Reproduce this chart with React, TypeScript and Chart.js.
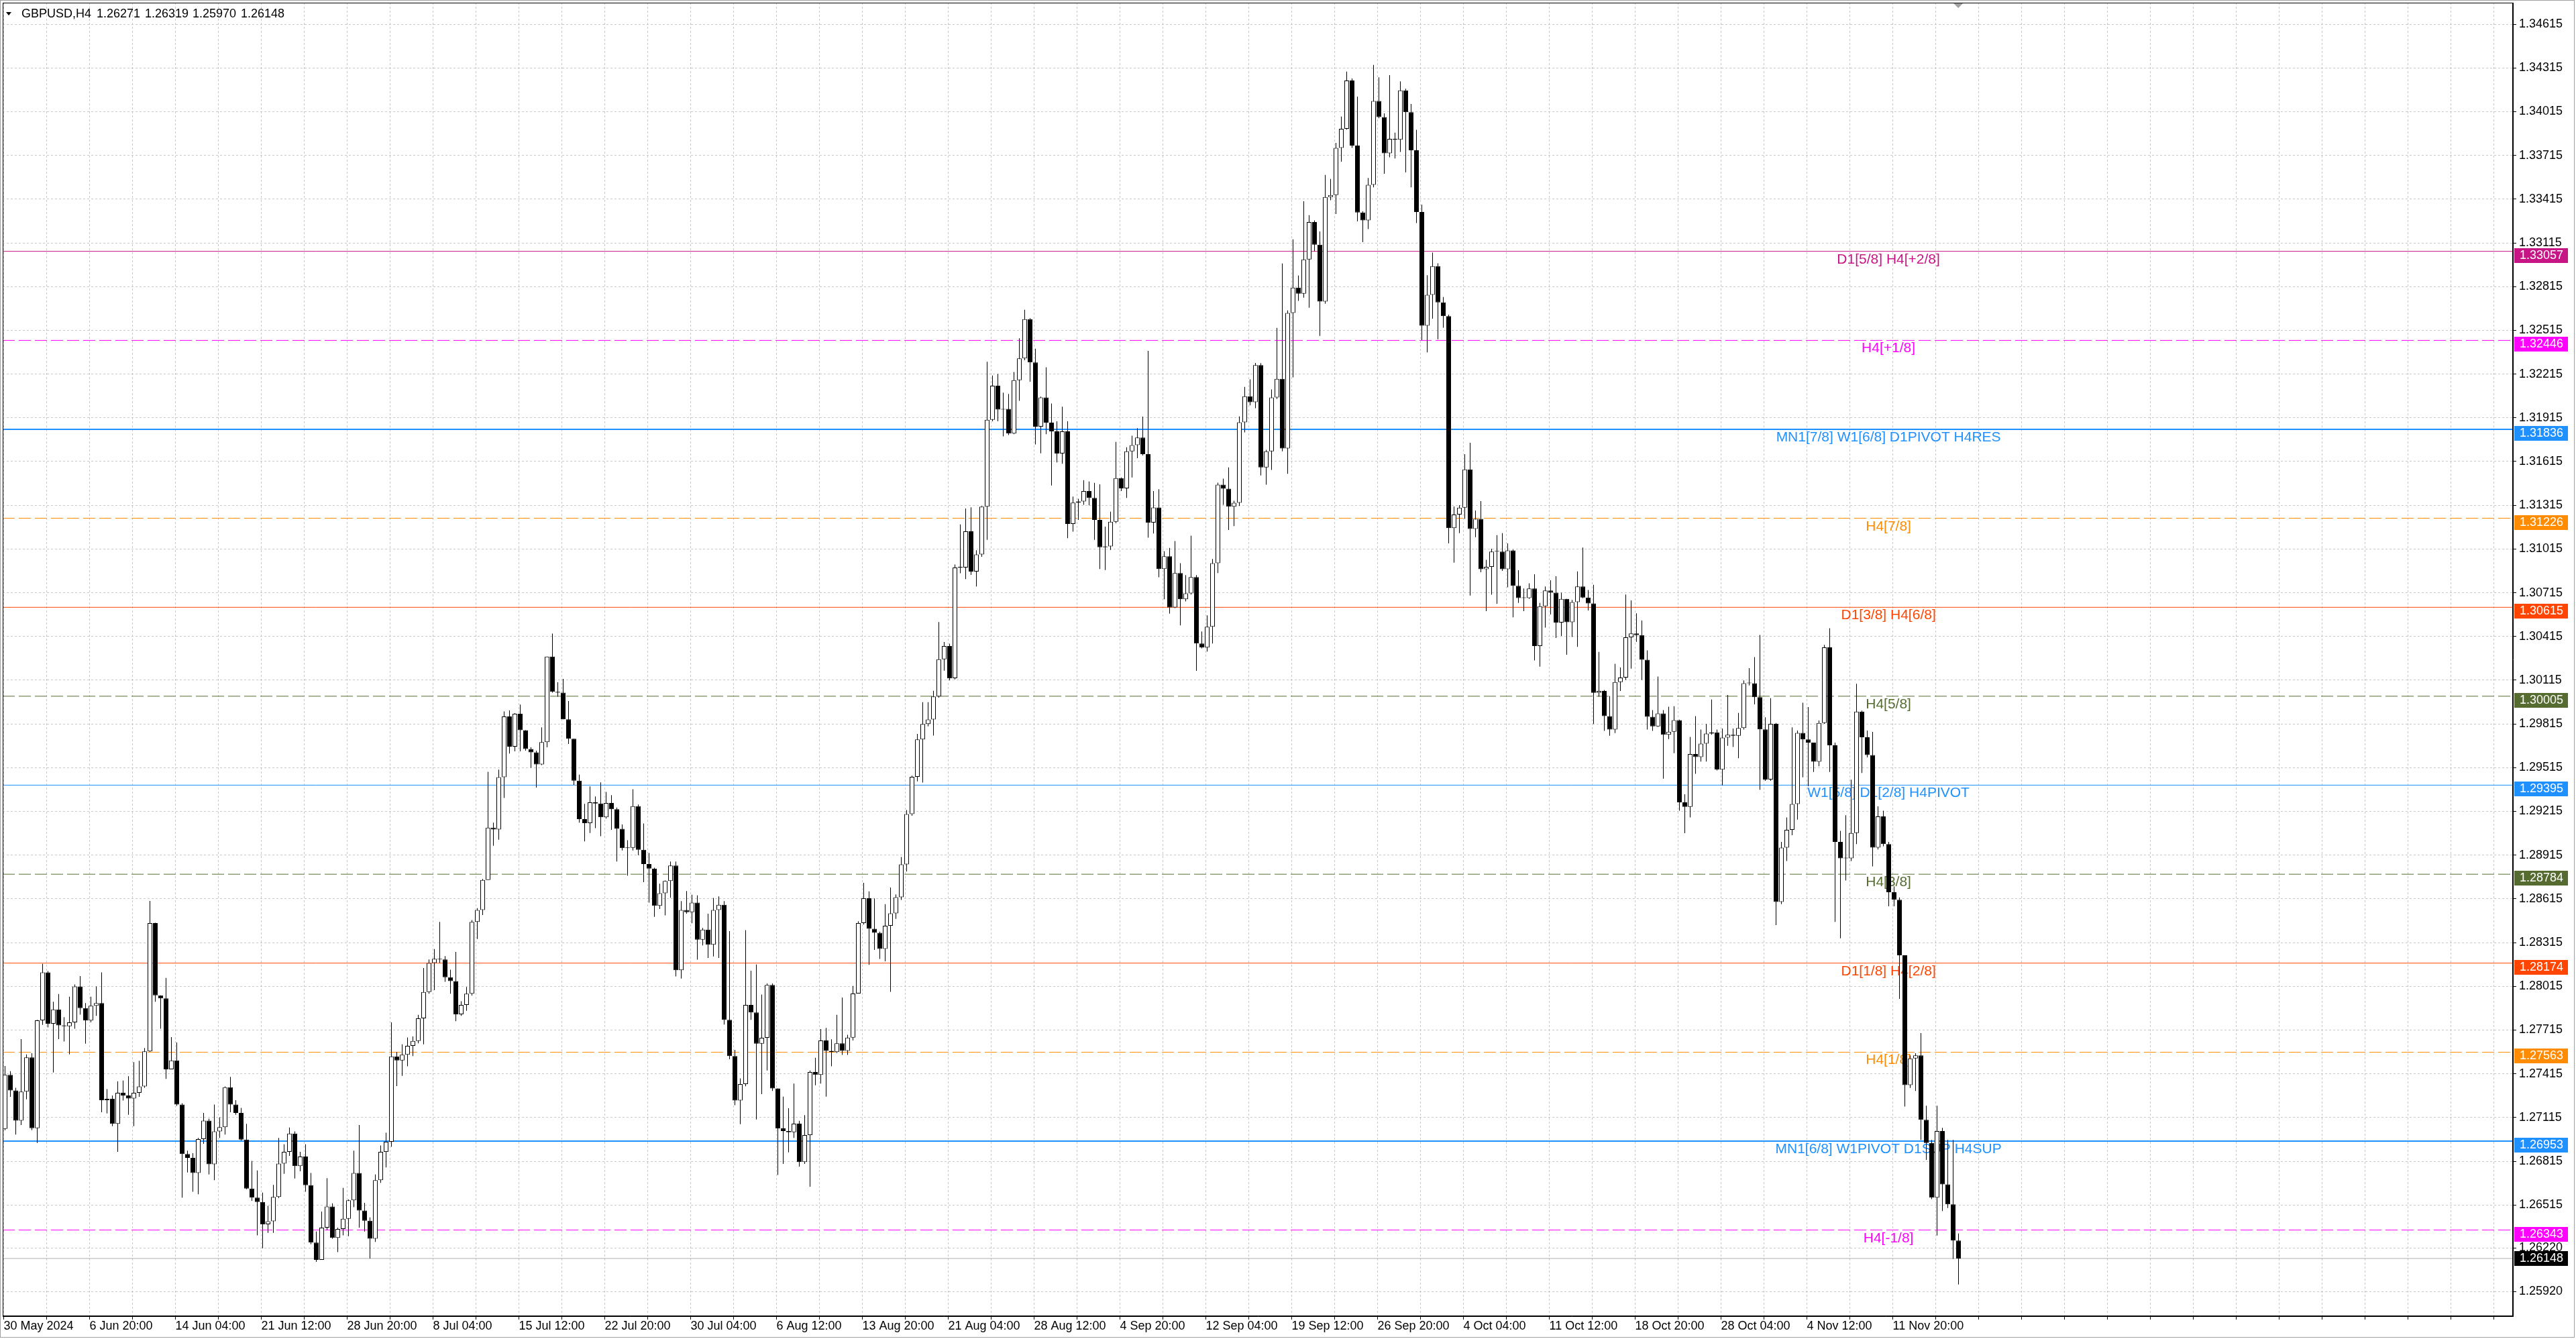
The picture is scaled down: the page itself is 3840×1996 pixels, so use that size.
import React, { useEffect, useRef } from 'react';
import { Chart, registerables } from 'chart.js';

Chart.register(...registerables);

// ---------------- data ----------------
const symbolTitle = 'GBPUSD,H4';
const headerValues = ['1.26271', '1.26319', '1.25970', '1.26148'];

// one candle = two H4 bars
const firstOpen = 1.27037;
const closes = [
  1.27407, 1.27301, 1.27093, 1.27292, 1.27527, 1.27042, 1.27782, 1.28111, 1.27759, 1.27856,
  1.27747, 1.27741, 1.27768, 1.28014, 1.27865, 1.27780, 1.27882, 1.27900, 1.27234, 1.27243,
  1.27072, 1.27284, 1.27266, 1.27245, 1.27284, 1.27328, 1.27569, 1.28449, 1.27953, 1.27932,
  1.27446, 1.27507, 1.27204, 1.26864, 1.26838, 1.26734, 1.26967, 1.27093, 1.26794, 1.27020,
  1.27049, 1.27322, 1.27204, 1.27146, 1.26963, 1.26628, 1.26565, 1.26535, 1.26382, 1.26403,
  1.26570, 1.26799, 1.26879, 1.27005, 1.26782, 1.26847, 1.26650, 1.26257, 1.26139, 1.26359,
  1.26505, 1.26289, 1.26350, 1.26421, 1.26547, 1.26734, 1.26477, 1.26407, 1.26283, 1.26685,
  1.26879, 1.26949, 1.27534, 1.27506, 1.27546, 1.27607, 1.27640, 1.27795, 1.27976, 1.28175,
  1.28204, 1.28199, 1.28077, 1.28051, 1.27823, 1.27887, 1.27964, 1.28457, 1.28539, 1.28744,
  1.29103, 1.29091, 1.29450, 1.29866, 1.29659, 1.29885, 1.29772, 1.29643, 1.29620, 1.29537,
  1.29690, 1.30277, 1.30035, 1.30030, 1.29847, 1.29713, 1.29425, 1.29162, 1.29134, 1.29277,
  1.29269, 1.29175, 1.29273, 1.29230, 1.29095, 1.28963, 1.28965, 1.29251, 1.28952, 1.28854,
  1.28823, 1.28567, 1.28654, 1.28737, 1.28843, 1.28126, 1.28539, 1.28524, 1.28589, 1.28335,
  1.28404, 1.28300, 1.28539, 1.28574, 1.27785, 1.27536, 1.27232, 1.27344, 1.27887, 1.27835,
  1.27622, 1.27662, 1.28024, 1.27314, 1.27040, 1.27022, 1.27014, 1.27073, 1.26809, 1.26994,
  1.27427, 1.27407, 1.27643, 1.27572, 1.27564, 1.27624, 1.27572, 1.27663, 1.27966, 1.28449,
  1.28619, 1.28410, 1.28382, 1.28272, 1.28430, 1.28516, 1.28626, 1.28851, 1.29197, 1.29452,
  1.29708, 1.29814, 1.29846, 1.30003, 1.30259, 1.30349, 1.30129, 1.30888, 1.30888, 1.31136,
  1.30860, 1.30978, 1.31305, 1.31901, 1.32135, 1.31972, 1.31976, 1.31807, 1.32173, 1.32323,
  1.32592, 1.32295, 1.31854, 1.32055, 1.31882, 1.31822, 1.31670, 1.31822, 1.31187, 1.31333,
  1.31341, 1.31412, 1.31365, 1.31215, 1.31027, 1.31033, 1.31202, 1.31501, 1.31431, 1.31685,
  1.31728, 1.31779, 1.31666, 1.31196, 1.31300, 1.30877, 1.30965, 1.30614, 1.30850, 1.30670,
  1.30711, 1.30822, 1.30367, 1.30339, 1.30482, 1.30918, 1.31456, 1.31429, 1.31305, 1.31332,
  1.31884, 1.32063, 1.32022, 1.32276, 1.31575, 1.31685, 1.32055, 1.32182, 1.31705, 1.32634,
  1.32808, 1.32767, 1.33001, 1.33258, 1.33103, 1.32712, 1.33429, 1.33443, 1.33766, 1.33898,
  1.34229, 1.33782, 1.33324, 1.33269, 1.33513, 1.34088, 1.33978, 1.33730, 1.33829, 1.33823,
  1.34161, 1.34012, 1.33750, 1.33327, 1.32547, 1.32758, 1.32955, 1.32707, 1.32612, 1.31158,
  1.31251, 1.31299, 1.31561, 1.31152, 1.31222, 1.30876, 1.30893, 1.30997, 1.30997, 1.30876,
  1.31005, 1.30763, 1.30679, 1.30679, 1.30744, 1.30349, 1.30622, 1.30730, 1.30715, 1.30510,
  1.30673, 1.30513, 1.30651, 1.30758, 1.30682, 1.30642, 1.30028, 1.30041, 1.29869, 1.29777,
  1.30102, 1.30133, 1.30409, 1.30436, 1.30424, 1.30255, 1.29864, 1.29798, 1.29887, 1.29741,
  1.29761, 1.29841, 1.29277, 1.29246, 1.29608, 1.29588, 1.29680, 1.29749, 1.29757, 1.29501,
  1.29721, 1.29741, 1.29734, 1.29787, 1.30094, 1.30094, 1.29998, 1.29778, 1.29434, 1.29815,
  1.28594, 1.28967, 1.29089, 1.29266, 1.29754, 1.29708, 1.29687, 1.29556, 1.29821, 1.30340,
  1.29668, 1.29006, 1.28893, 1.28893, 1.29067, 1.29900, 1.29723, 1.29601, 1.28967, 1.29180,
  1.28991, 1.28661, 1.28609, 1.28228, 1.27337, 1.27520, 1.27541, 1.27099, 1.26940, 1.26565,
  1.27022, 1.26656, 1.26519, 1.26271, 1.26148,
];
const highs = [
  1.27468, 1.27433, 1.27319, 1.27653, 1.27548, 1.27556, 1.27785, 1.28169, 1.28120, 1.27909,
  1.27962, 1.27803, 1.27944, 1.28028, 1.28085, 1.27900, 1.27944, 1.28014, 1.28111, 1.27310,
  1.27266, 1.27363, 1.27368, 1.27398, 1.27495, 1.27504, 1.27592, 1.28601, 1.28451, 1.27953,
  1.28072, 1.27666, 1.27630, 1.27213, 1.26887, 1.26870, 1.26975, 1.27146, 1.27107, 1.27204,
  1.27116, 1.27328, 1.27394, 1.27234, 1.27181, 1.27072, 1.26817, 1.26752, 1.26600, 1.26509,
  1.26653, 1.26975, 1.26931, 1.27046, 1.27020, 1.26879, 1.26931, 1.26734, 1.26333, 1.26470,
  1.26699, 1.26526, 1.26359, 1.26632, 1.26553, 1.26887, 1.27063, 1.26530, 1.26430, 1.26724,
  1.26923, 1.27011, 1.27768, 1.27565, 1.27617, 1.27664, 1.27671, 1.27819, 1.28140, 1.28199,
  1.28270, 1.28457, 1.28222, 1.28129, 1.28251, 1.27913, 1.28011, 1.28469, 1.28551, 1.28751,
  1.29486, 1.29138, 1.29502, 1.29901, 1.29908, 1.29889, 1.29948, 1.29772, 1.29655, 1.29631,
  1.29791, 1.30277, 1.30434, 1.30101, 1.30124, 1.29972, 1.29713, 1.29467, 1.29267, 1.29386,
  1.29317, 1.29414, 1.29349, 1.29327, 1.29241, 1.29125, 1.29017, 1.29367, 1.29262, 1.29132,
  1.28930, 1.28828, 1.28719, 1.28741, 1.28871, 1.28871, 1.28600, 1.28669, 1.28643, 1.28639,
  1.28415, 1.28513, 1.28621, 1.28632, 1.28600, 1.28394, 1.27579, 1.27383, 1.28400, 1.28122,
  1.28165, 1.27959, 1.28035, 1.28035, 1.27308, 1.27258, 1.27179, 1.27348, 1.27092, 1.27132,
  1.27438, 1.27525, 1.27722, 1.27730, 1.27651, 1.27820, 1.27938, 1.27682, 1.28017, 1.28461,
  1.28725, 1.28666, 1.28618, 1.28390, 1.28579, 1.28693, 1.28646, 1.28902, 1.29224, 1.29460,
  1.29747, 1.29964, 1.29964, 1.30042, 1.30514, 1.30377, 1.30365, 1.30908, 1.31183, 1.31293,
  1.31301, 1.31006, 1.31309, 1.32299, 1.32205, 1.32216, 1.32088, 1.32079, 1.32229, 1.32460,
  1.32656, 1.32599, 1.32389, 1.32060, 1.32261, 1.32013, 1.31891, 1.31991, 1.31891, 1.31375,
  1.31360, 1.31487, 1.31478, 1.31469, 1.31459, 1.31168, 1.31271, 1.31750, 1.31506, 1.31713,
  1.31792, 1.31844, 1.31923, 1.32374, 1.31412, 1.31425, 1.30999, 1.31022, 1.31070, 1.30918,
  1.30836, 1.31106, 1.30836, 1.30449, 1.30560, 1.30946, 1.31470, 1.31498, 1.31575, 1.31346,
  1.31925, 1.32127, 1.32179, 1.32292, 1.32290, 1.31696, 1.32110, 1.32532, 1.32974, 1.32651,
  1.33139, 1.32891, 1.33401, 1.33305, 1.33269, 1.33194, 1.33581, 1.33553, 1.33801, 1.33981,
  1.34290, 1.34243, 1.34119, 1.33332, 1.33561, 1.34336, 1.34251, 1.34003, 1.34266, 1.33871,
  1.34223, 1.34173, 1.34068, 1.33891, 1.33378, 1.32893, 1.33048, 1.32975, 1.32744, 1.32623,
  1.31307, 1.31316, 1.31665, 1.31744, 1.31279, 1.31344, 1.30941, 1.31017, 1.31110, 1.31124,
  1.31053, 1.31011, 1.30870, 1.30744, 1.30780, 1.30842, 1.30645, 1.30758, 1.30800, 1.30828,
  1.30715, 1.30669, 1.30666, 1.30861, 1.31025, 1.30734, 1.30769, 1.30309, 1.30048, 1.30007,
  1.30228, 1.30202, 1.30703, 1.30662, 1.30574, 1.30524, 1.30320, 1.29910, 1.30140, 1.29910,
  1.29933, 1.29936, 1.29844, 1.29332, 1.29726, 1.29869, 1.29777, 1.29814, 1.29982, 1.29777,
  1.29783, 1.30013, 1.29783, 1.29890, 1.30114, 1.30197, 1.30273, 1.30425, 1.29861, 1.29992,
  1.29821, 1.29006, 1.29174, 1.29791, 1.29769, 1.29961, 1.29931, 1.29607, 1.29839, 1.30358,
  1.30471, 1.29687, 1.29082, 1.29189, 1.29433, 1.30090, 1.29906, 1.29769, 1.29760, 1.29250,
  1.29220, 1.29006, 1.28701, 1.28625, 1.28228, 1.27541, 1.27556, 1.27694, 1.27196, 1.26961,
  1.27196, 1.27044, 1.26961, 1.26961, 1.26319,
];
const lows = [
  1.27028, 1.27257, 1.26998, 1.27063, 1.27240, 1.27028, 1.26940, 1.27750, 1.27733, 1.27424,
  1.27653, 1.27636, 1.27548, 1.27724, 1.27821, 1.27622, 1.27768, 1.27812, 1.27151, 1.27143,
  1.27055, 1.26879, 1.27231, 1.27134, 1.27055, 1.27257, 1.27319, 1.27565, 1.27909, 1.27724,
  1.27380, 1.27446, 1.27195, 1.26565, 1.26738, 1.26606, 1.26588, 1.26935, 1.26724, 1.26685,
  1.26975, 1.26998, 1.27151, 1.27134, 1.26958, 1.26623, 1.26544, 1.26306, 1.26218, 1.26324,
  1.26324, 1.26562, 1.26729, 1.26852, 1.26697, 1.26746, 1.26606, 1.26245, 1.26125, 1.26139,
  1.26341, 1.26283, 1.26192, 1.26306, 1.26301, 1.26500, 1.26359, 1.26333, 1.26148, 1.26262,
  1.26667, 1.26773, 1.26914, 1.27330, 1.27401, 1.27466, 1.27537, 1.27624, 1.27617, 1.27964,
  1.27988, 1.28175, 1.28046, 1.27964, 1.27776, 1.27812, 1.27847, 1.27952, 1.28340, 1.28504,
  1.28744, 1.28979, 1.29021, 1.29307, 1.29612, 1.29627, 1.29627, 1.29631, 1.29514, 1.29378,
  1.29533, 1.29655, 1.30030, 1.30002, 1.29847, 1.29678, 1.29397, 1.29138, 1.29009, 1.29067,
  1.29100, 1.29045, 1.29165, 1.29089, 1.28871, 1.28947, 1.28774, 1.28947, 1.28915, 1.28730,
  1.28589, 1.28491, 1.28545, 1.28502, 1.28622, 1.28083, 1.28068, 1.28513, 1.28448, 1.28198,
  1.28296, 1.28209, 1.28220, 1.28209, 1.27753, 1.27514, 1.27199, 1.27069, 1.27329, 1.27785,
  1.27101, 1.27275, 1.27438, 1.27297, 1.26721, 1.26797, 1.26876, 1.26975, 1.26778, 1.26797,
  1.26640, 1.27336, 1.27348, 1.27258, 1.27466, 1.27557, 1.27545, 1.27545, 1.27643, 1.27977,
  1.28438, 1.28162, 1.28265, 1.28202, 1.28186, 1.27977, 1.28477, 1.28607, 1.28803, 1.29185,
  1.29421, 1.29413, 1.29798, 1.29735, 1.29995, 1.30180, 1.30113, 1.30121, 1.30849, 1.30809,
  1.30837, 1.30758, 1.30962, 1.31078, 1.31891, 1.31891, 1.31788, 1.31797, 1.31803, 1.32032,
  1.32310, 1.32163, 1.31732, 1.31671, 1.31803, 1.31450, 1.31609, 1.31600, 1.31089, 1.31134,
  1.31215, 1.31318, 1.31315, 1.31078, 1.30877, 1.30871, 1.31009, 1.31191, 1.31412, 1.31365,
  1.31506, 1.31638, 1.31656, 1.31093, 1.31121, 1.30821, 1.30670, 1.30571, 1.30609, 1.30491,
  1.30656, 1.30703, 1.30179, 1.30333, 1.30311, 1.30367, 1.30850, 1.31318, 1.31145, 1.31172,
  1.31310, 1.31815, 1.32000, 1.31981, 1.31520, 1.31456, 1.31558, 1.32044, 1.31685, 1.31531,
  1.32193, 1.32717, 1.32739, 1.32670, 1.33057, 1.32477, 1.32698, 1.33407, 1.33313, 1.33672,
  1.33892, 1.33766, 1.33263, 1.33120, 1.33209, 1.33496, 1.33970, 1.33589, 1.33702, 1.33694,
  1.33739, 1.33598, 1.33496, 1.33251, 1.32448, 1.32364, 1.32595, 1.32454, 1.32533, 1.31053,
  1.30921, 1.31124, 1.31222, 1.30696, 1.31096, 1.30856, 1.30589, 1.30701, 1.30639, 1.30865,
  1.30752, 1.30546, 1.30645, 1.30589, 1.30673, 1.30250, 1.30208, 1.30476, 1.30566, 1.30405,
  1.30419, 1.30289, 1.30412, 1.30344, 1.30677, 1.30593, 1.29814, 1.30002, 1.29767, 1.29734,
  1.29752, 1.30041, 1.30117, 1.30194, 1.30378, 1.30117, 1.29777, 1.29767, 1.29795, 1.29439,
  1.29711, 1.29614, 1.29220, 1.29066, 1.29174, 1.29473, 1.29557, 1.29557, 1.29741, 1.29496,
  1.29393, 1.29665, 1.29657, 1.29580, 1.29777, 1.30079, 1.29949, 1.29363, 1.29424, 1.29424,
  1.28435, 1.28579, 1.28875, 1.29052, 1.29159, 1.29449, 1.29388, 1.29485, 1.29525, 1.29815,
  1.29485, 1.28457, 1.28344, 1.28741, 1.28875, 1.28991, 1.29479, 1.29586, 1.28838, 1.28954,
  1.28976, 1.28564, 1.28564, 1.27929, 1.27190, 1.27318, 1.27297, 1.26961, 1.26824, 1.26555,
  1.26305, 1.26473, 1.26494, 1.26146, 1.25970,
];

const timeLabels = [
  '30 May 2024', '6 Jun 20:00', '14 Jun 04:00', '21 Jun 12:00', '28 Jun 20:00', '8 Jul 04:00',
  '15 Jul 12:00', '22 Jul 20:00', '30 Jul 04:00', '6 Aug 12:00', '13 Aug 20:00', '21 Aug 04:00',
  '28 Aug 12:00', '4 Sep 20:00', '12 Sep 04:00', '19 Sep 12:00', '26 Sep 20:00', '4 Oct 04:00',
  '11 Oct 12:00', '18 Oct 20:00', '28 Oct 04:00', '4 Nov 12:00', '11 Nov 20:00',
];

const yTickLabels = [
  '1.34615', '1.34315', '1.34015', '1.33715', '1.33415', '1.33115', '1.32815', '1.32515',
  '1.32215', '1.31915', '1.31615', '1.31315', '1.31015', '1.30715', '1.30415', '1.30115',
  '1.29815', '1.29515', '1.29215', '1.28915', '1.28615', '1.28315', '1.28015', '1.27715',
  '1.27415', '1.27115', '1.26815', '1.26515', '1.26220', '1.25920',
];

const levelPrices = [1.33057, 1.32446, 1.31836, 1.31226, 1.30615, 1.30005, 1.29395, 1.28784, 1.28174, 1.27563, 1.26953, 1.26343];
const levelNames = [
  'D1[5/8] H4[+2/8]', 'H4[+1/8]', 'MN1[7/8] W1[6/8] D1PIVOT H4RES', 'H4[7/8]', 'D1[3/8] H4[6/8]', 'H4[5/8]',
  'W1[5/8] D1[2/8] H4PIVOT', 'H4[3/8]', 'D1[1/8] H4[2/8]', 'H4[1/8]', 'MN1[6/8] W1PIVOT D1SUP H4SUP', 'H4[-1/8]',
];
const levelColors = ['#C71585', '#FF00FF', '#1E90FF', '#FF8C00', '#FF4500', '#556B2F', '#1E90FF', '#556B2F', '#FF4500', '#FF8C00', '#1E90FF', '#FF00FF'];
const levelDashed = [false, true, false, true, false, true, false, true, false, true, false, true];
const levelWidths = [1, 1, 2, 1, 1, 1, 1, 1, 1, 1, 2, 1];
const bidPrice = 1.26148;

// ---------------- layout ----------------
const W = 3840;
const H = 1996;
const AREA = { left: 4, top: 4, right: 3746, bottom: 1962 };
const PX_PER_BAR = 4;
const BARS_PER_CANDLE = 2;
const X_MIN = -0.375;
const X_MAX = X_MIN + (AREA.right - AREA.left) / PX_PER_BAR;
const Y_MIN = 1.25752;
const Y_MAX = 1.3476272;
const GRID_EVERY = 16;
const LABEL_EVERY = 32;
const LEVEL_TEXT_BAR = 702.4;
const SHIFT_BAR = 728.4;
const FONT = '"Liberation Sans", Arial, sans-serif';
const AXIS_FONT_SIZE = 18;

export default function App() {
  const ref = useRef<HTMLCanvasElement | null>(null);

  useEffect(() => {
    const canvas = ref.current;
    if (!canvas) return;

    const candles = closes.map((c, k) => {
      const o = k === 0 ? firstOpen : closes[k - 1];
      return {
        x: k * BARS_PER_CANDLE + 0.5,
        o,
        c,
        h: Math.max(highs[k], o, c),
        l: Math.min(lows[k], o, c),
      };
    });

    const xTicks: number[] = [];
    for (let v = 0; v <= X_MAX; v += GRID_EVERY) xTicks.push(v);
    const yTicks = yTickLabels.map((s) => parseFloat(s)).sort((a, b) => a - b);

    const levelSets = levelPrices.map((p, i) => ({
      type: 'line' as const,
      data: [{ x: X_MIN, y: p }, { x: X_MAX, y: p }],
      borderColor: levelColors[i],
      borderWidth: levelWidths[i],
      borderDash: levelDashed[i] ? [18, 6] : [],
      pointRadius: 0,
      fill: false,
      order: 10,
    }));

    const bgPlugin = {
      id: 'bg',
      beforeDraw(chart: any) {
        const { ctx } = chart;
        ctx.save();
        ctx.fillStyle = '#ffffff';
        ctx.fillRect(0, 0, W, H);
        ctx.restore();
      },
    };

    const levelTextPlugin = {
      id: 'levelText',
      beforeDatasetsDraw(chart: any) {
        const { ctx, scales } = chart;
        const xs = scales.x;
        const ys = scales.y;
        ctx.save();
        ctx.font = `21px ${FONT}`;
        ctx.textAlign = 'center';
        ctx.textBaseline = 'alphabetic';
        levelPrices.forEach((p, i) => {
          ctx.fillStyle = levelColors[i];
          ctx.fillText(levelNames[i], xs.getPixelForValue(LEVEL_TEXT_BAR), ys.getPixelForValue(p) + 18);
        });
        ctx.restore();
      },
    };

    const overlayPlugin = {
      id: 'overlay',
      afterDraw(chart: any) {
        const { ctx, scales } = chart;
        const xs = scales.x;
        const ys = scales.y;
        ctx.save();
        // plot frame
        ctx.strokeStyle = '#000';
        ctx.lineWidth = 1;
        ctx.strokeRect(AREA.left + 0.5, AREA.top + 0.5, AREA.right - AREA.left - 1, AREA.bottom - AREA.top - 1);
        // window border
        ctx.strokeStyle = '#A0A0A0';
        ctx.strokeRect(0.5, 0.5, W - 3, H - 3);

        // price tags
        ctx.font = `${AXIS_FONT_SIZE}px ${FONT}`;
        ctx.textAlign = 'left';
        ctx.textBaseline = 'middle';
        levelPrices.forEach((p, i) => {
          const yy = Math.round(ys.getPixelForValue(p));
          ctx.fillStyle = levelColors[i];
          ctx.fillRect(3748, yy - 5, 80, 22);
          ctx.fillStyle = '#fff';
          ctx.fillText(p.toFixed(5), 3756, yy + 6.5);
        });
        const by = Math.round(ys.getPixelForValue(bidPrice));
        ctx.fillStyle = '#000';
        ctx.fillRect(3748, by - 11, 80, 22);
        ctx.fillStyle = '#fff';
        ctx.fillText(bidPrice.toFixed(5), 3756, by + 0.5);

        // chart shift marker
        const sx = xs.getPixelForValue(SHIFT_BAR);
        ctx.fillStyle = '#A0A0A0';
        ctx.beginPath();
        ctx.moveTo(sx - 7, AREA.top + 1);
        ctx.lineTo(sx + 7, AREA.top + 1);
        ctx.lineTo(sx, AREA.top + 8);
        ctx.closePath();
        ctx.fill();

        // header
        ctx.fillStyle = '#000';
        ctx.beginPath();
        ctx.moveTo(9, 18);
        ctx.lineTo(17, 18);
        ctx.lineTo(13, 23);
        ctx.closePath();
        ctx.fill();
        ctx.font = `18px ${FONT}`;
        ctx.textBaseline = 'alphabetic';
        ctx.fillText(symbolTitle, 32, 26);
        const hx = [144, 216, 287, 359];
        headerValues.forEach((v, i) => ctx.fillText(v, hx[i], 26));
        ctx.restore();
      },
    };

    const chart = new Chart(canvas, {
      type: 'bar',
      data: {
        datasets: [
          ...levelSets,
          {
            type: 'line' as const,
            data: [{ x: X_MIN, y: bidPrice }, { x: X_MAX, y: bidPrice }],
            borderColor: '#B0B0B0',
            borderWidth: 1,
            pointRadius: 0,
            fill: false,
            order: 9,
          },
          {
            type: 'bar' as const,
            data: candles.map((d) => ({ x: d.x, y: [d.l, d.h] })),
            backgroundColor: '#000',
            borderWidth: 0,
            barThickness: 1,
            grouped: false,
            inflateAmount: 0,
            order: 5,
          },
          {
            type: 'bar' as const,
            data: candles.map((d) => ({ x: d.x, y: [d.o, d.c], up: d.c >= d.o })),
            backgroundColor: (ctx: any) => (ctx.raw && ctx.raw.up ? '#ffffff' : '#000000'),
            borderColor: '#000',
            borderWidth: 1,
            borderSkipped: false,
            barThickness: 7,
            minBarLength: 1,
            grouped: false,
            inflateAmount: 0,
            order: 1,
          },
        ] as any,
      },
      options: {
        responsive: false,
        animation: false,
        devicePixelRatio: 1,
        events: [],
        layout: { padding: { left: AREA.left, top: AREA.top, right: 0, bottom: 0 } },
        plugins: { legend: { display: false }, tooltip: { enabled: false }, title: { display: false } },
        scales: {
          x: {
            type: 'linear',
            position: 'bottom',
            min: X_MIN,
            max: X_MAX,
            offset: false,
            afterBuildTicks: (s: any) => {
              s.ticks = xTicks.map((v) => ({ value: v }));
            },
            afterFit: (s: any) => {
              s.height = H - AREA.bottom;
              s.paddingLeft = 0;
              s.paddingRight = 0;
            },
            grid: { offset: false, color: '#C8C8C8', lineWidth: 1, drawTicks: true, tickLength: 5, tickColor: '#000' },
            border: { display: true, color: '#000', width: 1, dash: [3, 3] },
            ticks: {
              autoSkip: false,
              maxRotation: 0,
              minRotation: 0,
              align: 'start',
              padding: -1,
              color: '#000',
              font: { family: FONT, size: AXIS_FONT_SIZE },
              callback: (v: any) => {
                const j = Number(v) / LABEL_EVERY;
                return Number.isInteger(j) && j < timeLabels.length ? timeLabels[j] : '';
              },
            },
          },
          y: {
            type: 'linear',
            position: 'right',
            min: Y_MIN,
            max: Y_MAX,
            afterBuildTicks: (s: any) => {
              s.ticks = yTicks.map((v) => ({ value: v }));
            },
            afterFit: (s: any) => {
              s.width = W - AREA.right;
              s.paddingTop = 0;
              s.paddingBottom = 0;
            },
            grid: { color: '#C8C8C8', lineWidth: 1, drawTicks: true, tickLength: 5, tickColor: '#000' },
            border: { display: true, color: '#000', width: 1, dash: [3, 3] },
            ticks: {
              autoSkip: false,
              padding: 4,
              color: '#000',
              font: { family: FONT, size: AXIS_FONT_SIZE },
              callback: (v: any) => {
                const s = yTickLabels.find((t) => Math.abs(parseFloat(t) - Number(v)) < 1e-7);
                return s || '';
              },
            },
          },
        },
      } as any,
      plugins: [bgPlugin, levelTextPlugin, overlayPlugin],
    });

    return () => chart.destroy();
  }, []);

  return (
    <div style={{ position: 'fixed', left: 0, top: 0, width: W, height: H, background: '#fff' }}>
      <canvas ref={ref} width={W} height={H} style={{ display: 'block', width: W, height: H }} />
    </div>
  );
}
